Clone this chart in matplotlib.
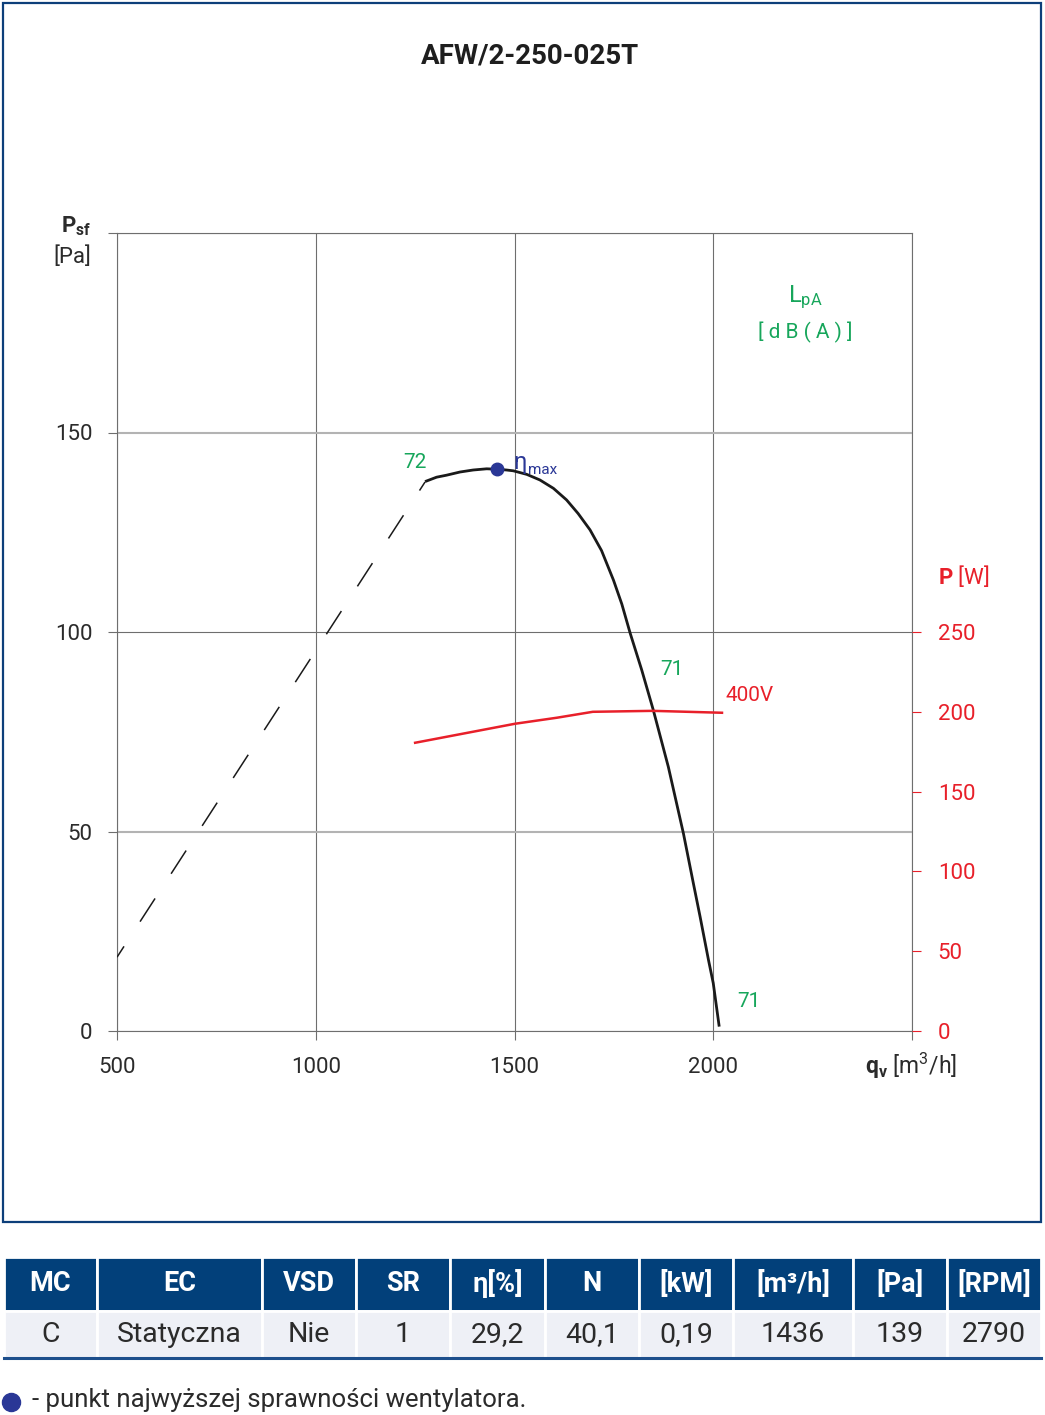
import matplotlib
matplotlib.use('Agg')
import matplotlib.pyplot as plt
from matplotlib.transforms import blended_transform_factory
from matplotlib.lines import Line2D
from matplotlib.patches import Rectangle

plt.rcParams['font.family'] = ['Roboto', 'DejaVu Sans']
plt.rcParams['mathtext.fontset'] = 'custom'
plt.rcParams['mathtext.rm'] = 'Roboto'
plt.rcParams['mathtext.bf'] = 'Roboto:bold'
plt.rcParams['mathtext.it'] = 'Roboto:italic'
plt.rcParams['lines.scale_dashes'] = False

# ---------------- data ----------------
title = "AFW/2-250-025T"
x_ticks = [500, 1000, 1500, 2000, 2500]
x_tick_labels = ["500", "1000", "1500", "2000", ""]
y_ticks = [0, 50, 100, 150, 200]
y_tick_labels = ["0", "50", "100", "150", ""]
p_ticks = [0, 50, 100, 150, 200, 250]

dash_q = [500, 1275]
dash_p = [18.5, 137.6]

curve_q = [1275, 1304, 1329, 1363, 1396, 1430, 1455, 1480, 1497, 1531, 1564, 1598, 1631,
           1660, 1690, 1719, 1749, 1770, 1791, 1820, 1849, 1887, 1925, 1950, 1967, 1988, 2000, 2015]
curve_p = [137.7, 138.8, 139.3, 140.1, 140.6, 140.9, 140.8, 140.6, 140.4, 139.5, 138.1, 136.0, 133.1,
           129.7, 125.6, 120.4, 113.0, 107.0, 99.7, 90.5, 80.5, 66.2, 49.5, 37.0, 28.6, 17.8, 12.0, 1.1]

power_q = [1250, 1501, 1607, 1697, 1848, 2022]
power_w = [180.6, 192.5, 196.3, 200.0, 200.6, 199.4]
power_label = "400V"

eta_q = [1456]
eta_p = [140.9]

noise_labels = ["72", "71", "71"]
noise_q = [1250, 1896, 2090]
noise_p = [142.6, 90.5, 7.5]

table_header = ["MC", "EC", "VSD", "SR", "η[%]", "N", "[kW]", "[m³/h]", "[Pa]", "[RPM]"]
table_row = ["C", "Statyczna", "Nie", "1", "29,2", "40,1", "0,19", "1436", "139", "2790"]
footnote = "- punkt najwyższej sprawności wentylatora."

# ---------------- style ----------------
W, H = 1045, 1415
GRID = '#6e6e6e'
RED = '#e8202a'
GREEN = '#17a65b'
NAVY = '#2a3796'
TXT = '#2b2b2b'
HEAD = '#02407a'

fig = plt.figure(figsize=(W / 100, H / 100), dpi=100)
fig.patch.set_facecolor('white')

# outer border
fig.add_artist(Rectangle((3 / W, 1 - 1222 / H), 1038 / W, 1219 / H, transform=fig.transFigure,
                         fill=False, edgecolor='#0d3f7a', lw=1.6))

fig.text(530 / W, 1 - 56 / H, title, ha='center', va='center', fontsize=20,
         fontweight='bold', color='#1e1e1e')

ax = fig.add_axes([117 / W, 384 / H, 795 / W, 798 / H])
ax.set_xlim(500, 2500)
ax.set_ylim(0, 200)
ax.set_xticks(x_ticks, x_tick_labels)
ax.set_yticks(y_ticks, y_tick_labels)
ax.tick_params(axis='both', length=6.5, width=0.8, color=GRID, labelsize=16, labelcolor=TXT)
ax.tick_params(axis='y', pad=11)
ax.tick_params(axis='x', pad=12)
ax.grid(True, color=GRID, lw=0.8)
for gl, v in zip(ax.yaxis.get_gridlines(), y_ticks):
    if v in (50, 150):
        gl.set_color('#b3b3b3')
        gl.set_linewidth(1.5)
for s in ax.spines.values():
    s.set_color(GRID)
    s.set_linewidth(0.8)

# dashed extension
ax.plot(dash_q, dash_p, color='#1a1a1a', lw=1.1, linestyle=(10.6, (19.9, 21.2)), zorder=3)
# fan curve
ax.plot(curve_q, curve_p, color='#1a1a1a', lw=2.0, solid_capstyle='butt',
        solid_joinstyle='round', zorder=4)
# max efficiency point
ax.plot(eta_q, eta_p, 'o', color=NAVY, ms=9, zorder=5)
ax.text(1496, 142.4, "η", color=NAVY, fontsize=17, ha='left', va='center', zorder=6)
ax.text(1533, 140.6, "max", color=NAVY, fontsize=11, ha='left', va='center', zorder=6)

for lab, q, p in zip(noise_labels, noise_q, noise_p):
    ax.text(q, p, lab, color=GREEN, fontsize=15, ha='center', va='center')

ax.text(2231, 184, r"L$_{\mathrm{pA}}$", color=GREEN, fontsize=17, ha='center', va='center')
ax.text(2231, 175, "[ d B ( A ) ]", color=GREEN, fontsize=15, ha='center', va='center')

bt = blended_transform_factory(ax.transAxes, ax.transData)
ax.text(-0.0327, 201.6, r"$\mathbf{P_{sf}}$", transform=bt, ha='right', va='center',
        fontsize=16, color=TXT, clip_on=False)
ax.text(-0.0327, 194.0, "[Pa]", transform=bt, ha='right', va='center',
        fontsize=16, color=TXT, clip_on=False)
ax.text(0.941, -8.8, r"$\mathbf{q_v}$ [m$^3$/h]", transform=bt, ha='left', va='center',
        fontsize=16.5, color=TXT, clip_on=False)

# power axis
ax2 = ax.twinx()
ax2.set_ylim(0, 500)
ax2.set_yticks(p_ticks)
ax2.tick_params(axis='y', length=6.5, width=0.8, color=RED, labelcolor=RED, labelsize=16, pad=12)
for s in ax2.spines.values():
    s.set_visible(False)
ax2.plot(power_q, power_w, color=RED, lw=1.8, zorder=3)
ax2.text(2030, 210.5, power_label, color=RED, fontsize=15, ha='left', va='center')
bt2 = blended_transform_factory(ax2.transAxes, ax2.transData)
ax2.text(1.0327, 285, r"$\mathbf{P}$ [W]", transform=bt2, color=RED, fontsize=16,
         ha='left', va='center', clip_on=False)

# ---------------- table ----------------
bounds = [4, 97, 262, 356, 450, 545, 639, 733, 853, 947, 1041]
widths = [(b - a) / (bounds[-1] - bounds[0]) for a, b in zip(bounds[:-1], bounds[1:])]
tax = fig.add_axes([4 / W, 1 - 1358 / H, 1037 / W, 101 / H])
tax.axis('off')
tbl = tax.table(cellText=[table_row], colLabels=table_header, colWidths=widths,
                bbox=[0, 0, 1, 1], cellLoc='center')
tbl.auto_set_font_size(False)
tbl.set_fontsize(20.5)
for (r, c), cell in tbl.get_celld().items():
    cell.set_edgecolor('white')
    cell.set_linewidth(2)
    if r == 0:
        cell.set_facecolor(HEAD)
        cell.set_height(0.53)
        cell.get_text().set_color('white')
        cell.get_text().set_fontweight('bold')
        cell.get_text().set_fontsize(19.5)
    else:
        cell.set_facecolor('#eef0f6')
        cell.set_height(0.47)
        cell.get_text().set_color(TXT)
tax.axhline(0, color='#1d4f8c', lw=2.2, clip_on=False)

fig.add_artist(Line2D([11 / W], [1 - 1402 / H], marker='o', ms=13, color=NAVY,
                      transform=fig.transFigure))
fig.text(32 / W, 1 - 1400 / H, footnote, ha='left', va='center', fontsize=18.5, color=TXT)

fig.savefig('out.png', dpi=100)
